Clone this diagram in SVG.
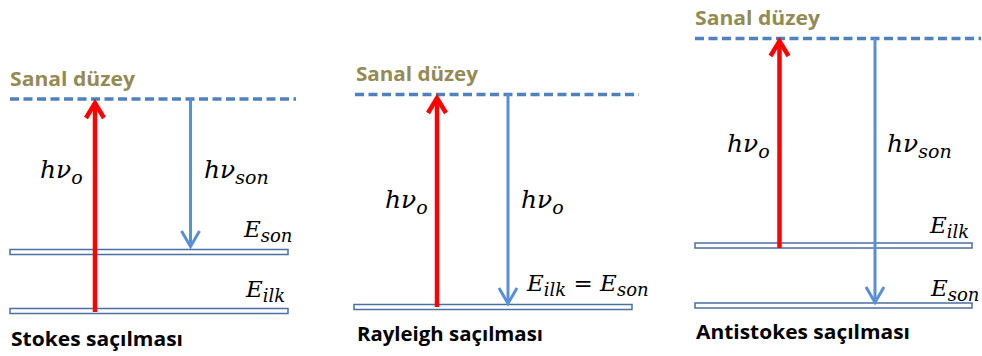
<svg xmlns="http://www.w3.org/2000/svg" width="982" height="356" viewBox="0 0 982 356">
<style>
.virt{font-family:"Open Sans","Liberation Sans",sans-serif;font-weight:700;font-size:19px;fill:#948A54}
.title{font-family:"Open Sans","Liberation Sans",sans-serif;font-weight:700;font-size:19px;fill:#000}
.dash{stroke:#4F81BD;stroke-width:3.5;stroke-dasharray:9 4.5;fill:none}
.bar{fill:#fff;stroke:#4A6FA0;stroke-width:1.5}
.math{font-family:"DejaVu Serif","Liberation Serif",serif;font-style:italic;font-size:23px;fill:#000}
.hv{font-size:25px}
.sub{font-size:18px}
.hv .sub{font-size:19px}
.red{stroke:#FF0000;stroke-width:4.5;fill:none}
.blue{stroke:#5A8FD8;stroke-width:3;fill:none}
</style>
<rect width="982" height="356" fill="#fff"/>

<g id="stokes">
  <text class="virt" x="10" y="86" textLength="125" lengthAdjust="spacingAndGlyphs">Sanal düzey</text>
  <line class="dash" x1="10" y1="99" x2="296" y2="99"/>
  <rect class="bar" x="10" y="249.5" width="278" height="5"/>
  <rect class="bar" x="10" y="308.5" width="278" height="5"/>
  <text class="math hv" x="40" y="178">hν<tspan class="sub" dy="6">o</tspan></text>
  <text class="math hv" x="204" y="178">hν<tspan class="sub" dy="6">son</tspan></text>
  <text class="math" x="244" y="237">E<tspan class="sub" dy="5">son</tspan></text>
  <text class="math" x="246" y="297">E<tspan class="sub" dy="5">ilk</tspan></text>
  <text class="title" x="11" y="346" textLength="172" lengthAdjust="spacingAndGlyphs">Stokes saçılması</text>
</g>

<g id="rayleigh">
  <text class="virt" x="356" y="81" textLength="122" lengthAdjust="spacingAndGlyphs">Sanal düzey</text>
  <line class="dash" x1="355" y1="94.5" x2="639" y2="94.5"/>
  <rect class="bar" x="354" y="304.5" width="278" height="5"/>
  <text class="math hv" x="385" y="208">hν<tspan class="sub" dy="6">o</tspan></text>
  <text class="math hv" x="521" y="208">hν<tspan class="sub" dy="6">o</tspan></text>
  <text class="math" x="527" y="291">E<tspan class="sub" dy="5">ilk</tspan><tspan dy="-5"> = E</tspan><tspan class="sub" dy="5">son</tspan></text>
  <text class="title" x="357" y="341" textLength="186" lengthAdjust="spacingAndGlyphs">Rayleigh saçılması</text>
</g>

<g id="antistokes">
  <text class="virt" x="695" y="25" textLength="125" lengthAdjust="spacingAndGlyphs">Sanal düzey</text>
  <line class="dash" x1="695" y1="38.5" x2="981" y2="38.5"/>
  <rect class="bar" x="695" y="243" width="277" height="5"/>
  <rect class="bar" x="695" y="303" width="277" height="5"/>
  <text class="math hv" x="727" y="152">hν<tspan class="sub" dy="6">o</tspan></text>
  <text class="math hv" x="887" y="152">hν<tspan class="sub" dy="6">son</tspan></text>
  <text class="math" x="930" y="233">E<tspan class="sub" dy="5">ilk</tspan></text>
  <text class="math" x="931" y="296">E<tspan class="sub" dy="5">son</tspan></text>
  <text class="title" x="696" y="339" textLength="214" lengthAdjust="spacingAndGlyphs">Antistokes saçılması</text>
</g>

<g id="connectors">
  <line class="red" x1="95" y1="312" x2="95" y2="103"/>
  <path class="red" d="M86,118 L95,103 L104,118"/>
  <line class="blue" x1="190.5" y1="99" x2="190.5" y2="246"/>
  <path class="blue" d="M181.5,231 L190.5,246.5 L199.5,231"/>

  <line class="red" x1="437" y1="307" x2="437" y2="98"/>
  <path class="red" d="M428,113 L437,98 L446,113"/>
  <line class="blue" x1="508" y1="94" x2="508" y2="303"/>
  <path class="blue" d="M499,288 L508,303.5 L517,288"/>

  <line class="red" x1="779.5" y1="248" x2="779.5" y2="41"/>
  <path class="red" d="M770.5,56 L779.5,41 L788.5,56"/>
  <line class="blue" x1="875" y1="38" x2="875" y2="302"/>
  <path class="blue" d="M866,287 L875,302.5 L884,287"/>
</g>
</svg>
